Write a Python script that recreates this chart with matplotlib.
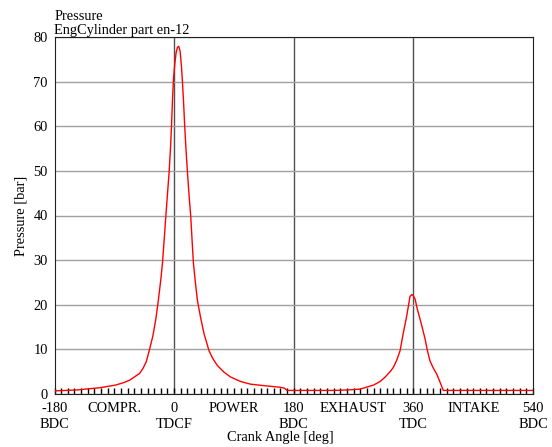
import numpy as np
import matplotlib.pyplot as plt

# crank angle [deg] and cylinder pressure [bar]
angle = [-180, -147, -112, -88, -75, -67, -60, -52, -47, -42, -37.5, -32, -27.5, -23.5,
         -20, -17.5, -15, -12.5, -10, -7.5, -5.5, -4, -2.5, -1, 1, 3, 5, 7, 9, 11,
         12.5, 14, 16, 18, 20, 22.5, 25, 27, 29, 32, 35, 40, 45, 52.5, 58, 65, 75, 85,
         100, 115, 140, 160, 166, 170, 240, 260, 280, 300, 310, 317.5, 325, 330, 335,
         340, 345, 350, 355, 358, 360, 362.5, 366, 370, 374, 377.5, 381, 385, 390, 395,
         400, 405, 540]
pressure = [0.7, 0.9, 1.4, 2.0, 2.6, 3.1, 3.8, 4.6, 5.7, 7.2, 9.7, 13.0, 16.8, 21.3,
            25.7, 29.4, 34.5, 39.8, 44.8, 49.8, 55.0, 59.8, 65.8, 70.5, 74.0, 76.5, 77.7, 77.9, 76.8, 73.5,
            70.0, 66.0, 59.8, 54.5, 49.8, 44.5, 39.8, 34.5, 29.4, 25.0, 21.0, 17.0, 13.5, 9.7, 8.0, 6.4, 4.9, 3.8,
            2.8, 2.2, 1.8, 1.5, 1.3, 0.8, 0.8, 0.9, 1.1, 2.0, 2.8, 3.8, 5.0, 6.0, 7.6,
            9.7, 13.8, 17.5, 21.9, 22.3, 22.0, 21.3, 19.0, 16.8, 14.5, 12.4, 9.8, 7.4, 5.8, 4.5,
            2.7, 0.8, 0.8]

tick_pos = [-180, -90, 0, 90, 180, 270, 360, 450, 540]
tick_lab = ["-180\nBDC", "COMPR.", "0\nTDCF", "POWER", "180\nBDC",
            "EXHAUST", "360\nTDC", "INTAKE", "540\nBDC"]
dead_centres = [0, 180, 360]

plt.rcParams['font.family'] = ['Liberation Serif', 'DejaVu Serif']
plt.rcParams['font.size'] = 10.4

W, H = 552, 447
fig = plt.figure(figsize=(W / 100, H / 100), dpi=100)
x0, x1, ytop, ybot = 54.5, 533, 37, 394
ax = fig.add_axes([x0 / W, 1 - ybot / H, (x1 - x0) / W, (ybot - ytop) / H])

ax.set_xlim(-180, 540)
ax.set_ylim(0, 80)
ax.set_yticks(range(0, 81, 10))
ax.grid(axis='y', color='#a0a0a0', lw=1)
for a in dead_centres:
    ax.axvline(a, color='#505050', lw=1, zorder=1)

ax.plot(angle, pressure, color='red', lw=1, zorder=3)

ax.xaxis.remove_overlapping_locs = False
ax.set_xticks(tick_pos)
ax.set_xticklabels(tick_lab, linespacing=1.25)
ax.set_xticks(range(-180, 541, 10), minor=True)
ax.tick_params(axis='x', which='major', length=0, pad=6)
ax.tick_params(axis='x', which='minor', direction='in', length=4, width=1, color='black')
ax.tick_params(axis='y', length=0, pad=5)
for s in ax.spines.values():
    s.set_color('#202020')

fig.text(280 / W, 1 - 437 / H, "Crank Angle [deg]", ha='center', va='center')
ax.set_ylabel("Pressure [bar]", labelpad=4)
ax.text(0.0, 1.0, "Pressure\nEngCylinder part en-12", transform=ax.transAxes,
        ha='left', va='bottom', linespacing=1.1)

fig.savefig("out.png", dpi=100)
